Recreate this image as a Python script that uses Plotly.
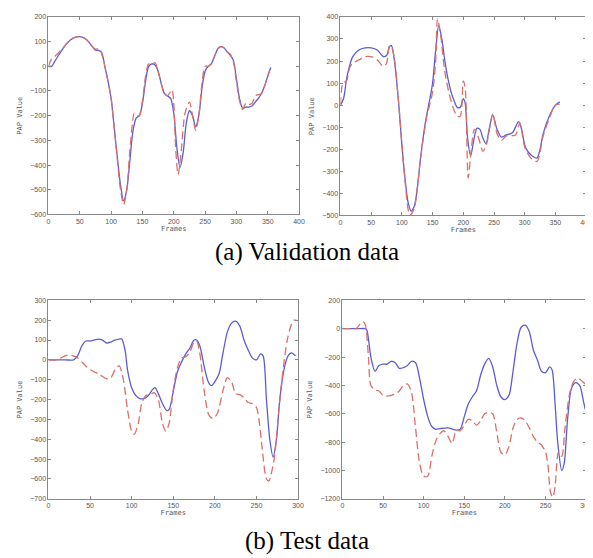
import plotly.graph_objects as go

# ---------------- Data ----------------
# (a) Validation data, left panel
val1_x_true = [0, 5, 10, 20, 30, 40, 50, 60, 70, 75, 80, 85, 90, 95, 100, 105, 110, 115, 120, 125, 130, 135, 140, 145, 150, 155, 160, 165, 170, 175, 180, 185, 190, 195, 200, 205, 210, 215, 220, 225, 230, 235, 240, 245, 250, 255, 260, 265, 270, 275, 280, 285, 290, 295, 300, 305, 310, 315, 320, 325, 330, 335, 340, 345, 350, 355]
val1_y_true = [0, 0, 20, 60, 95, 115, 120, 110, 80, 65, 65, 55, 0, -60, -130, -250, -370, -480, -545, -500, -380, -260, -210, -200, -150, -60, 0, 10, 5, -20, -70, -110, -120, -130, -190, -330, -410, -350, -230, -180, -200, -245, -200, -90, -20, 0, 10, 40, 70, 80, 75, 60, 45, 25, -50, -130, -170, -165, -165, -160, -145, -130, -110, -80, -40, -5]
val1_x_pred = [0, 5, 10, 20, 30, 40, 50, 60, 70, 75, 82, 86, 90, 95, 100, 105, 110, 115, 120, 125, 130, 137, 140, 145, 150, 155, 160, 165, 170, 175, 180, 185, 190, 197, 200, 203, 207, 212, 218, 225, 230, 235, 240, 245, 250, 255, 260, 265, 270, 275, 280, 285, 290, 295, 300, 305, 310, 315, 320, 325, 330, 335, 340, 345, 350, 355]
val1_y_pred = [0, 30, 40, 65, 95, 115, 120, 110, 80, 70, 70, 40, 0, -60, -130, -250, -380, -500, -560, -500, -340, -190, -200, -200, -140, -40, 10, 5, 15, -20, -70, -110, -120, -95, -150, -330, -440, -340, -190, -145, -200, -260, -200, -70, 0, 0, 10, 40, 70, 80, 75, 60, 50, 20, -60, -140, -175, -150, -155, -150, -120, -115, -110, -80, -40, 0]

# (a) Validation data, right panel
val2_x_true = [0, 5, 10, 15, 20, 30, 40, 50, 60, 70, 75, 80, 83, 88, 95, 100, 105, 110, 115, 120, 125, 130, 135, 140, 145, 150, 155, 160, 165, 170, 175, 180, 185, 190, 195, 200, 203, 207, 212, 217, 222, 227, 232, 237, 242, 248, 255, 262, 270, 280, 290, 295, 300, 305, 310, 315, 320, 325, 330, 340, 350, 357]
val2_y_true = [0, 30, 120, 180, 220, 250, 260, 260, 250, 220, 225, 265, 270, 200, 0, -180, -330, -440, -480, -460, -380, -250, -140, -50, 20, 100, 250, 360, 300, 200, 120, 60, 20, -10, -10, 30, 10, -150, -230, -160, -105, -110, -150, -175, -110, -45, -110, -145, -135, -125, -75, -110, -180, -210, -225, -235, -240, -200, -130, -50, 0, 15]
val2_x_pred = [0, 4, 10, 15, 20, 30, 40, 50, 60, 70, 75, 80, 85, 95, 100, 105, 110, 113, 120, 125, 130, 140, 150, 155, 158, 163, 170, 180, 190, 195, 200, 203, 208, 213, 218, 225, 232, 238, 248, 255, 262, 270, 285, 292, 300, 310, 320, 330, 340, 350, 357]
val2_y_pred = [0, 100, 110, 170, 190, 205, 220, 220, 205, 175, 190, 270, 250, 0, -180, -340, -470, -500, -470, -380, -250, -60, 60, 200, 390, 320, 150, 20, -50, -50, 110, 80, -330, -200, -110, -150, -210, -175, -40, -130, -160, -140, -135, -80, -190, -240, -255, -140, -60, 0, 5]

# (b) Test data, left panel
test1_x_true = [0, 10, 20, 30, 35, 40, 45, 50, 55, 60, 65, 70, 75, 80, 85, 88, 92, 95, 100, 105, 110, 115, 120, 125, 128, 132, 137, 142, 145, 150, 155, 160, 165, 170, 175, 178, 182, 187, 192, 196, 200, 205, 210, 215, 220, 225, 230, 235, 240, 245, 250, 255, 258, 262, 266, 270, 274, 278, 283, 288, 292, 297]
test1_y_true = [0, 0, 0, 0, 20, 70, 95, 95, 100, 105, 100, 85, 90, 100, 105, 105, 50, -50, -140, -180, -195, -195, -180, -150, -140, -170, -220, -255, -250, -160, -60, -10, 30, 60, 100, 100, 70, -30, -110, -130, -110, -70, 40, 140, 185, 195, 170, 100, 50, 10, 0, 30, 20, -200, -400, -490, -400, -200, -50, 20, 35, 20]
test1_x_pred = [0, 10, 15, 20, 25, 30, 35, 40, 50, 60, 70, 75, 80, 85, 90, 95, 100, 103, 108, 112, 117, 122, 127, 132, 137, 141, 145, 150, 155, 160, 165, 170, 175, 178, 182, 187, 193, 198, 203, 210, 215, 220, 225, 230, 235, 240, 245, 250, 253, 257, 262, 265, 268, 272, 277, 282, 287, 292, 295, 298]
test1_y_pred = [0, 0, 10, 20, 25, 20, 10, -10, -50, -70, -95, -90, -50, -30, -100, -250, -360, -375, -320, -220, -180, -175, -165, -200, -320, -360, -320, -150, -40, 10, 15, 40, 90, 95, 30, -150, -280, -295, -270, -150, -90, -110, -170, -175, -190, -215, -220, -240, -300, -450, -600, -610, -570, -480, -250, -50, 100, 180, 200, 200]

# (b) Test data, right panel
test2_x_true = [0, 10, 20, 28, 30, 35, 40, 45, 50, 55, 60, 65, 70, 75, 80, 85, 90, 95, 100, 105, 110, 115, 120, 130, 140, 145, 150, 155, 160, 165, 170, 175, 180, 185, 190, 195, 200, 205, 210, 215, 220, 225, 230, 235, 240, 245, 250, 255, 258, 262, 265, 270, 273, 277, 282, 287, 292, 297, 299]
test2_y_true = [0, 0, 0, 0, -10, -200, -300, -260, -250, -250, -230, -240, -280, -275, -260, -230, -240, -350, -500, -620, -690, -710, -705, -700, -715, -710, -620, -530, -480, -440, -330, -250, -210, -270, -400, -480, -500, -470, -300, -100, 10, 25, -20, -150, -220, -300, -310, -270, -290, -550, -800, -1000, -950, -650, -420, -380, -400, -520, -570]
test2_x_pred = [0, 10, 17, 20, 25, 28, 32, 35, 40, 45, 50, 55, 60, 65, 70, 75, 80, 85, 90, 95, 100, 105, 110, 115, 120, 125, 130, 135, 140, 145, 150, 155, 160, 165, 170, 175, 180, 185, 190, 195, 200, 205, 210, 215, 220, 225, 230, 235, 240, 245, 250, 253, 256, 259, 262, 266, 270, 274, 280, 285, 290, 295, 299]
test2_y_pred = [0, 0, 0, 20, 50, 30, -200, -400, -430, -440, -470, -475, -470, -460, -440, -400, -390, -450, -700, -950, -1040, -1040, -900, -790, -740, -720, -760, -810, -720, -720, -680, -640, -650, -680, -650, -600, -590, -600, -730, -870, -890, -830, -700, -640, -630, -650, -700, -760, -800, -820, -870, -960, -1150, -1190, -1100, -870, -900, -700, -450, -370, -350, -370, -390]

# Axis ranges / ticks
val_x_range = [0, 400]
test_x_range = [0, 300]
val1_y_range = [-600, 200]
val2_y_range = [-500, 400]
test1_y_range = [-700, 300]
test2_y_range = [-1200, 200]

captions = ["(a) Validation data", "(b) Test data"]
x_title = "Frames"
y_title = "PAP Value"

# ---------------- Figure ----------------
W, H = 593, 558
BLUE = "#5c5cd2"
RED = "#d9706a"

def px_dom(x0, x1):
    return [x0 / W, x1 / W]

def py_dom(top, bottom):
    return [1 - bottom / H, 1 - top / H]

panels = [
    dict(xd=px_dom(39, 293), yd=py_dom(5, 205), xr=val_x_range, yr=val1_y_range, dx=50, dy=100,
         xt=val1_x_true, yt=val1_y_true, xp=val1_x_pred, yp=val1_y_pred),
    dict(xd=px_dom(335, 584), yd=py_dom(5, 206), xr=val_x_range, yr=val2_y_range, dx=50, dy=100,
         xt=val2_x_true, yt=val2_y_true, xp=val2_x_pred, yp=val2_y_pred),
    dict(xd=px_dom(39, 292), yd=py_dom(292, 493), xr=test_x_range, yr=test1_y_range, dx=50, dy=100,
         xt=test1_x_true, yt=test1_y_true, xp=test1_x_pred, yp=test1_y_pred),
    dict(xd=px_dom(337, 584), yd=py_dom(292, 493), xr=test_x_range, yr=test2_y_range, dx=50, dy=200,
         xt=test2_x_true, yt=test2_y_true, xp=test2_x_pred, yp=test2_y_pred),
]

fig = go.Figure()
layout = dict(
    width=W, height=H,
    margin=dict(l=0, r=0, t=0, b=0),
    paper_bgcolor="white", plot_bgcolor="white",
    showlegend=False,
    font=dict(family="Arial, Liberation Sans, sans-serif", size=7, color="#555555"),
)

for i, p in enumerate(panels, start=1):
    xa = "x" if i == 1 else f"x{i}"
    ya = "y" if i == 1 else f"y{i}"
    fig.add_trace(go.Scatter(x=p["xt"], y=p["yt"], mode="lines", xaxis=xa, yaxis=ya,
                             line=dict(color=BLUE, width=1.3, shape="spline", smoothing=0.8)))
    fig.add_trace(go.Scatter(x=p["xp"], y=p["yp"], mode="lines", xaxis=xa, yaxis=ya,
                             line=dict(color=RED, width=1.3, dash="8px,4px", shape="spline", smoothing=0.8)))
    axcommon = dict(showgrid=False, zeroline=False, showline=True, linecolor="#888888", linewidth=1,
                    mirror="ticks", ticks="inside", ticklen=3, tickcolor="#888888",
                    tickfont=dict(size=7, color="#555555"))
    layout["xaxis" if i == 1 else f"xaxis{i}"] = dict(
        domain=p["xd"], range=p["xr"], dtick=p["dx"], tick0=0, anchor=ya,
        title=dict(text=x_title, font=dict(size=7, color="#555555", family="DejaVu Sans Mono, monospace"), standoff=0),
        **axcommon)
    layout["yaxis" if i == 1 else f"yaxis{i}"] = dict(
        domain=p["yd"], range=p["yr"], dtick=p["dy"], tick0=0, anchor=xa,
        title=dict(text=y_title, font=dict(size=7, color="#555555", family="DejaVu Sans Mono, monospace"), standoff=6),
        **axcommon)

fig.update_layout(**layout)

fig.add_annotation(text=captions[0], x=301 / W, y=1 - 243 / H, xref="paper", yref="paper",
                   showarrow=False, font=dict(family="Liberation Serif, Times New Roman, serif", size=25, color="black"),
                   xanchor="center", yanchor="middle")
fig.add_annotation(text=captions[1], x=301 / W, y=1 - 536 / H, xref="paper", yref="paper",
                   showarrow=False, font=dict(family="Liberation Serif, Times New Roman, serif", size=25, color="black"),
                   xanchor="center", yanchor="middle")

fig.write_html("out.html")
